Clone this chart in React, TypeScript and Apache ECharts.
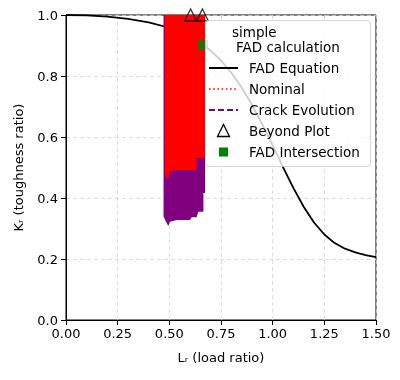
import React, { useEffect, useRef } from "react";
import * as echarts from "echarts";

const FONT = "DejaVu Sans";

// FAD equation curve
const fadLr = [0, 0.1, 0.2, 0.3, 0.4, 0.5, 0.6, 0.65, 0.7, 0.75, 0.8, 0.85, 0.9, 0.95, 1.0, 1.05, 1.1, 1.15, 1.2, 1.25, 1.3, 1.35, 1.4, 1.45, 1.5];
const fadKr = [1.0, 0.9986, 0.9944, 0.9871, 0.9758, 0.9582, 0.9297, 0.9093, 0.8834, 0.8508, 0.8106, 0.7621, 0.7053, 0.6414, 0.5723, 0.5014, 0.433, 0.3713, 0.3198, 0.2802, 0.2522, 0.2337, 0.2215, 0.2129, 0.2058];

// Crack evolution (purple) envelope outline
const crackLr = [0.472, 0.472, 0.484, 0.495, 0.503, 0.535, 0.6, 0.608, 0.632, 0.64, 0.665, 0.665, 0.673, 0.673];
const crackKr = [1.0, 0.339, 0.322, 0.308, 0.322, 0.328, 0.328, 0.337, 0.337, 0.355, 0.355, 0.416, 0.416, 1.0];

// Nominal (red) envelope outline
const nominalLr = [0.478, 0.478, 0.487, 0.495, 0.503, 0.527, 0.624, 0.632, 0.632, 0.673, 0.673];
const nominalKr = [1.0, 0.481, 0.465, 0.465, 0.485, 0.492, 0.492, 0.492, 0.531, 0.531, 1.0];

// Beyond plot markers
const beyondLr = [0.603, 0.66];
const beyondKr = [1.0, 1.0];

// FAD intersection
const interLr = [0.663];
const interKr = [0.902];

const legendTitle = ["simple", "FAD calculation"];
const legendNames = ["FAD Equation", "Nominal", "Crack Evolution", "Beyond Plot", "FAD Intersection"];

const xTicks = { min: 0, max: 1.5, interval: 0.25 };
const yTicks = { min: 0, max: 1.0, interval: 0.2 };

function polygonSeries(name: string, xs: number[], ys: number[], color: string) {
  return {
    type: "custom",
    name,
    data: [[xs[0], ys[0]]],
    renderItem: (params: any, api: any) => {
      if (params.dataIndex !== 0) return null;
      const pts = xs.map((x, i) => api.coord([x, ys[i]]));
      return { type: "polygon", shape: { points: pts }, style: { fill: color, stroke: "none" } };
    },
    silent: true,
  };
}

function buildLegend() {
  const bx = 205, by = 20, bw = 165, bh = 146;
  const rowY = [68, 89, 110, 131, 152];
  const x0 = 209, x1 = 238, xc = 223.5, tx = 249;
  const els: any[] = [
    { type: "rect", shape: { x: bx + 0.5, y: by + 0.5, width: bw, height: bh, r: 3 }, style: { fill: "rgba(255,255,255,0.8)", stroke: "rgba(204,204,204,0.8)", lineWidth: 1 }, z: 100 },
    { type: "text", x: 232, y: 32, z: 101, style: { text: legendTitle[0], font: `13.5px "${FONT}"`, fill: "#000", verticalAlign: "middle" } },
    { type: "text", x: 236, y: 47, z: 101, style: { text: legendTitle[1], font: `13.5px "${FONT}"`, fill: "#000", verticalAlign: "middle" } },
    { type: "line", shape: { x1: x0, y1: rowY[0], x2: x1, y2: rowY[0] }, style: { stroke: "#000", lineWidth: 2 }, z: 101 },
    { type: "line", shape: { x1: x0, y1: rowY[1], x2: x1, y2: rowY[1] }, style: { stroke: "#ff0000", lineWidth: 1.6, lineDash: [1.6, 2.6] }, z: 101 },
    { type: "line", shape: { x1: x0, y1: rowY[2], x2: x1, y2: rowY[2] }, style: { stroke: "#800080", lineWidth: 1.8, lineDash: [6, 3] }, z: 101 },
    { type: "polygon", shape: { points: [[xc, rowY[3] - 6.5], [xc + 6, rowY[3] + 5.5], [xc - 6, rowY[3] + 5.5]] }, style: { fill: "none", stroke: "#000", lineWidth: 1.3 }, z: 101 },
    { type: "rect", shape: { x: xc - 4.5, y: rowY[4] - 4.5, width: 9, height: 9 }, style: { fill: "#008000" }, z: 101 },
  ];
  legendNames.forEach((n, i) => {
    els.push({ type: "text", x: tx, y: rowY[i], z: 101, style: { text: n, font: `13.5px "${FONT}"`, fill: "#000", verticalAlign: "middle" } });
  });
  return els;
}

export default function App() {
  const ref = useRef<HTMLDivElement>(null);
  useEffect(() => {
    if (!ref.current) return;
    const chart = echarts.init(ref.current, null, { renderer: "svg" });
    const axisCommon = {
      axisLine: { show: true, lineStyle: { color: "#000", width: 1 } },
      axisTick: { show: true, length: 5, lineStyle: { color: "#000" } },
      splitLine: { show: true, lineStyle: { color: "#d6d6d6", type: [4, 3], width: 0.8 } },
      nameTextStyle: { fontFamily: FONT, fontSize: 13, color: "#000" },
    };
    chart.setOption({
      animation: false,
      grid: { left: 66, right: 24, top: 15, bottom: 60, show: true, borderColor: "#000", borderWidth: 1, backgroundColor: "transparent" },
      xAxis: {
        type: "value",
        ...xTicks,
        ...axisCommon,
        name: "Lᵣ (load ratio)",
        nameLocation: "middle",
        nameGap: 31,
        axisLabel: { fontFamily: FONT, fontSize: 13, color: "#000", margin: 7, formatter: (v: number) => v.toFixed(2) },
      },
      yAxis: {
        type: "value",
        ...yTicks,
        ...axisCommon,
        name: "Kᵣ (toughness ratio)",
        nameLocation: "middle",
        nameGap: 41,
        axisLabel: { fontFamily: FONT, fontSize: 13, color: "#000", margin: 8, formatter: (v: number) => v.toFixed(1) },
      },
      graphic: buildLegend(),
      series: [
        {
          type: "line",
          name: "FAD Equation",
          data: fadLr.map((x, i) => [x, fadKr[i]]),
          symbol: "none",
          lineStyle: { color: "#000", width: 1.8, join: "round" },
          itemStyle: { color: "#000" },
          z: 1,
        },
        { ...polygonSeries("Crack Evolution", crackLr, crackKr, "#800080"), z: 2 },
        { ...polygonSeries("Nominal", nominalLr, nominalKr, "#ff0000"), z: 2 },
        {
          type: "scatter",
          name: "Beyond Plot",
          data: beyondLr.map((x, i) => [x, beyondKr[i]]),
          symbol: "triangle",
          symbolSize: [12, 12],
          itemStyle: { color: "rgba(0,0,0,0)", borderColor: "#000", borderWidth: 1.3 },
          z: 3,
        },
        {
          type: "scatter",
          name: "FAD Intersection",
          data: interLr.map((x, i) => [x, interKr[i]]),
          symbol: "rect",
          symbolSize: 10,
          itemStyle: { color: "#008000" },
          z: 3,
        },
      ],
    });
    return () => chart.dispose();
  }, []);
  return <div ref={ref} style={{ position: "fixed", left: 0, top: 0, width: 400, height: 380 }} />;
}
